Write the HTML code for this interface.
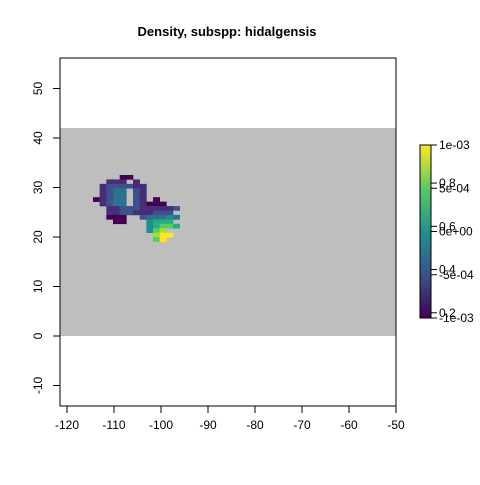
<!DOCTYPE html>
<html><head><style>body{margin:0;background:#fff}svg{font-family:"Liberation Sans",sans-serif}</style></head><body>
<svg width="480" height="480">
<text x="227" y="36" text-anchor="middle" font-weight="bold" font-size="13">Density, subspp: hidalgensis</text>
<rect x="60" y="128" width="336" height="208" fill="#bebebe"/>
<g id="cells"></g>
<rect x="60" y="58" width="336" height="348" fill="none" stroke="#000"/>
<g id="axes" font-size="12"></g>
<defs><linearGradient id="vir" x1="0" y1="1" x2="0" y2="0">
<stop offset="0" stop-color="#440154"/><stop offset=".25" stop-color="#3b528b"/><stop offset=".5" stop-color="#21908c"/><stop offset=".75" stop-color="#5dc963"/><stop offset="1" stop-color="#fde725"/></linearGradient></defs>
<rect x="420" y="145" width="11" height="173" fill="url(#vir)" stroke="#000"/>
<g id="leg" font-size="12"></g>
</svg>
<script>
const xTicks=[-120,-110,-100,-90,-80,-70,-60,-50];
const yTicks=[-10,0,10,20,30,40,50];
const legendTicksA=["0.2","0.4","0.6","0.8"];
const legendTicksB=["-1e-03","-5e-04","0e+00","5e-04","1e-03"];
const gridRows=[
"....11.......",
"..222.2......",
".2333322.....",
".2344.32.....",
".2344.32.....",
"12344.32.1...",
".2344.32111..",
"..22333222223",
"..2233222333.",
"..111..344454",
"...11...5666.",
"........56776",
"........578..",
".........899.",
".........79.."];
const pal=["#440154","#472c7a","#3b528b","#2c728e","#21908c","#27ad81","#5dc963","#aadc32","#fde725"];
const ns="http://www.w3.org/2000/svg";
const xs=v=>67+(v+120)*329/70, ys=v=>336-v*4.95;
const cellX0=-114.47, cellY0=32.53, cw=6.67*70/329, chh=4.44/4.95;
const cells=document.getElementById('cells');
gridRows.forEach((row,r)=>{[...row].forEach((ch,c)=>{if(ch==='.')return;
const e=document.createElementNS(ns,'rect');


const x1=xs(cellX0+c*cw),x2=xs(cellX0+(c+1)*cw),y1=ys(cellY0-r*chh),y2=ys(cellY0-(r+1)*chh);
e.setAttribute('x',x1);e.setAttribute('y',y1);e.setAttribute('width',x2-x1+0.3);e.setAttribute('height',y2-y1+0.3);
e.setAttribute('fill',pal[+ch-1]);cells.appendChild(e);});});
const ax=document.getElementById('axes');
function add(tag,attrs,txt){const e=document.createElementNS(ns,tag);for(const k in attrs)e.setAttribute(k,attrs[k]);if(txt!==undefined)e.textContent=txt;return e;}
xTicks.forEach(v=>{const x=xs(v);
const l=add('line',{x1:x,x2:x,y1:406,y2:413,stroke:'#000'});

ax.appendChild(l);
const t=add('text',{x:x,y:429,'text-anchor':'middle'},v);

ax.appendChild(t);});
yTicks.forEach(v=>{const y=ys(v);
const l=add('line',{x1:53,x2:60,y1:y,y2:y,stroke:'#000'});

ax.appendChild(l);
const t=add('text',{x:0,y:0,'text-anchor':'middle',transform:`translate(42,${y}) rotate(-90)`},v);

ax.appendChild(t);});
const lg=document.getElementById('leg');
const ly=f=>318-f*173;
legendTicksA.forEach((s,i)=>{const y=ly(0.03+(+s-0.2)*1.25);
const l=add('line',{x1:431,x2:437,y1:y,y2:y,stroke:'#000'});

lg.appendChild(l);
const t=add('text',{x:439,y:y+4},s);

lg.appendChild(t);});
legendTicksB.forEach((s,i)=>{const y=ly(i/4);
const l=add('line',{x1:431,x2:437,y1:y,y2:y,stroke:'#000'});

lg.appendChild(l);
const t=add('text',{x:439,y:y+4},s);

lg.appendChild(t);});
</script>
</body></html>
